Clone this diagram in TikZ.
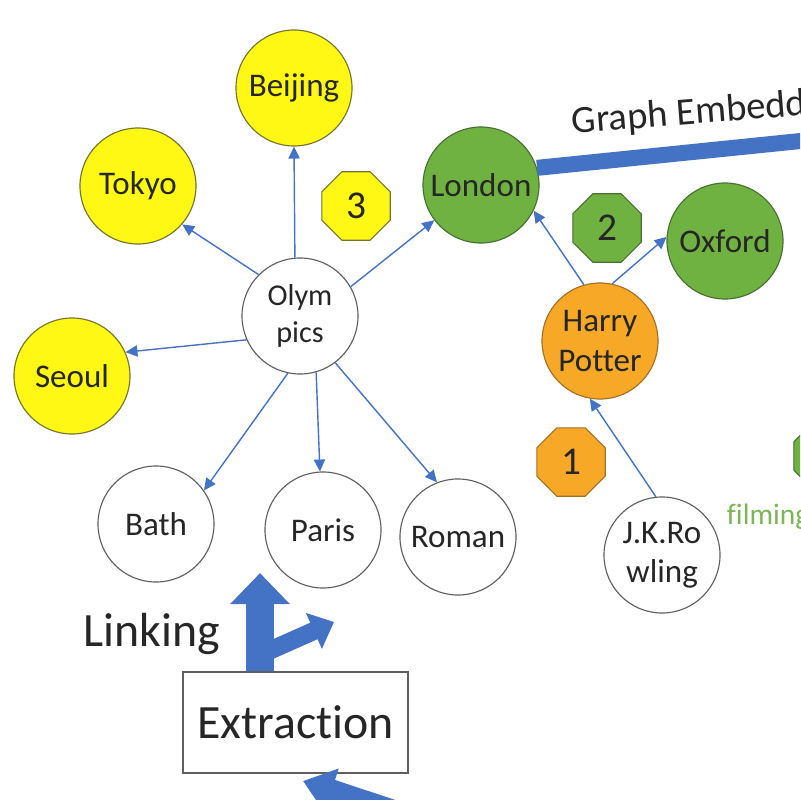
\documentclass[tikz,border=0pt]{standalone}
\usepackage{fontspec}
\setmainfont{Carlito}[Ligatures=NoCommon, Contextuals=NoAlternate]
\usetikzlibrary{positioning,shapes.geometric,arrows.meta}
\definecolor{kgYellow}{RGB}{255,248,20}
\definecolor{kgYellowLine}{RGB}{115,115,50}
\definecolor{kgGreen}{RGB}{112,178,66}
\definecolor{kgGreenLine}{RGB}{72,112,48}
\definecolor{kgOrange}{RGB}{246,168,38}
\definecolor{kgOrangeLine}{RGB}{160,112,40}
\definecolor{kgBlue}{RGB}{68,114,196}
\definecolor{kgGray}{RGB}{95,95,95}
\definecolor{kgFilm}{RGB}{125,180,85}
\newcommand{\KGNodeSize}{2.9}

\begin{document}
\begin{tikzpicture}[x=0.025cm, y=-0.025cm,
		entity/.style={circle, draw=kgGray, line width=0.8pt, fill=white, minimum size=\KGNodeSize cm, inner sep=0pt, align=center, text=black!85, font=\fontsize{23.5}{28}\selectfont},
		yent/.style={entity, fill=kgYellow, draw=kgYellowLine},
		gent/.style={entity, fill=kgGreen, draw=kgGreenLine},
		oent/.style={entity, fill=kgOrange, draw=kgOrangeLine},
		hop/.style={regular polygon, regular polygon sides=8, minimum size=1.85cm, inner sep=0pt, line width=0.8pt, text=black!85, font=\fontsize{28}{30}\selectfont},
		link/.style={draw=kgBlue, line width=1pt, -{Triangle[length=8.5pt, width=8pt]}},
		bigarrow/.style={draw=kgBlue, line width=#1, -{Triangle[length=0.78cm, width=1.45cm]}},
	]
	\useasboundingbox (0,0) rectangle (800,800);
	\clip (0,0) rectangle (800,800);

	% entities
	\node[yent] (beijing) at (294,88) {Beijing};
	\node[yent] (tokyo) at (138,186) {Tokyo};
	\node[yent] (seoul) at (72,376) {Seoul};
	\node[entity, font=\fontsize{21.5}{26.5}\selectfont] (olym) at (300,316) {Olym\\pics};
	\node[entity] (bath) at (156,524) {Bath};
	\node[entity] (paris) at (323,530) {Paris};
	\node[entity] (roman) at (458,537) {Roman};
	\node[gent] (london) at (481,185) {London};
	\node[gent] (oxford) at (725,241) {Oxford};
	\node[oent] (harry) at (600,341) {Harry\\Potter};
	\node[entity] (jk) at (662,555) {J.K.Ro\\wling};

	% hops
	\node[hop, fill=kgYellow, draw=kgYellowLine] (hop3) at (356,206) {3};
	\node[hop, fill=kgGreen, draw=kgGreenLine] (hop2) at (607,228) {2};
	\node[hop, fill=kgOrange, draw=kgOrangeLine] (hop1) at (571,462) {1};
	\node[hop, fill=kgGreen, draw=kgGreenLine] (hop4) at (828,456) {};
	\node[anchor=base west, text=kgFilm, font=\fontsize{21}{24}\selectfont] (filming) at (722,524) {filming};

	% relations
	\draw[link] (olym.135) -- (tokyo.-41);
	\draw[link] (olym.95) -- (beijing.south);
	\draw[link] (olym.204) -- (seoul.24);
	\draw[link] (olym.30) -- (london.217);
	\draw[link] (olym.258) -- (bath.35);
	\draw[link] (olym.286) -- (paris.93);
	\draw[link] (olym.307) -- (roman.111);
	\draw[link] (harry.106) -- (london.-26);
	\draw[link] (harry.78) -- (oxford.176);
	\draw[link] (jk.96) -- (harry.260);

	% embedding
	\coordinate (embedEnd) at (830,138);
	\draw[kgBlue, line width=0.4cm] (london.17) -- (embedEnd);
	\node[anchor=base west, rotate=4.5, text=black!85, font=\fontsize{27.5}{30}\selectfont] (embed) at (568,134) {Graph Embedding};

	% extraction and linking
	\node[draw=kgGray, line width=0.9pt, fill=white, minimum width=5.62cm, minimum height=2.52cm, text=black!85, font=\fontsize{34}{38}\selectfont] (extract) at (295.5,722.5) {Extrac\kern0pt tion};
	\node[text=black!85, font=\fontsize{34}{38}\selectfont] (linking) at (152,634) {Linking};
	\coordinate (linkTip) at (260,573);
	\coordinate (branchFoot) at (262,654);
	\coordinate (branchTip) at (334,622);
	\coordinate (feedFoot) at (430,823);
	\coordinate (feedTip) at (303,781);
	\draw[draw=kgBlue, line width=0.45cm, -{Triangle[length=0.55cm, width=0.95cm]}] (branchFoot) -- (branchTip);
	\draw[bigarrow=0.7cm] (extract.north -| linkTip) -- (linkTip);
	\draw[draw=kgBlue, line width=0.55cm, -{Triangle[length=0.75cm, width=1.1cm]}] (feedFoot) -- (feedTip);
\end{tikzpicture}
\end{document}
